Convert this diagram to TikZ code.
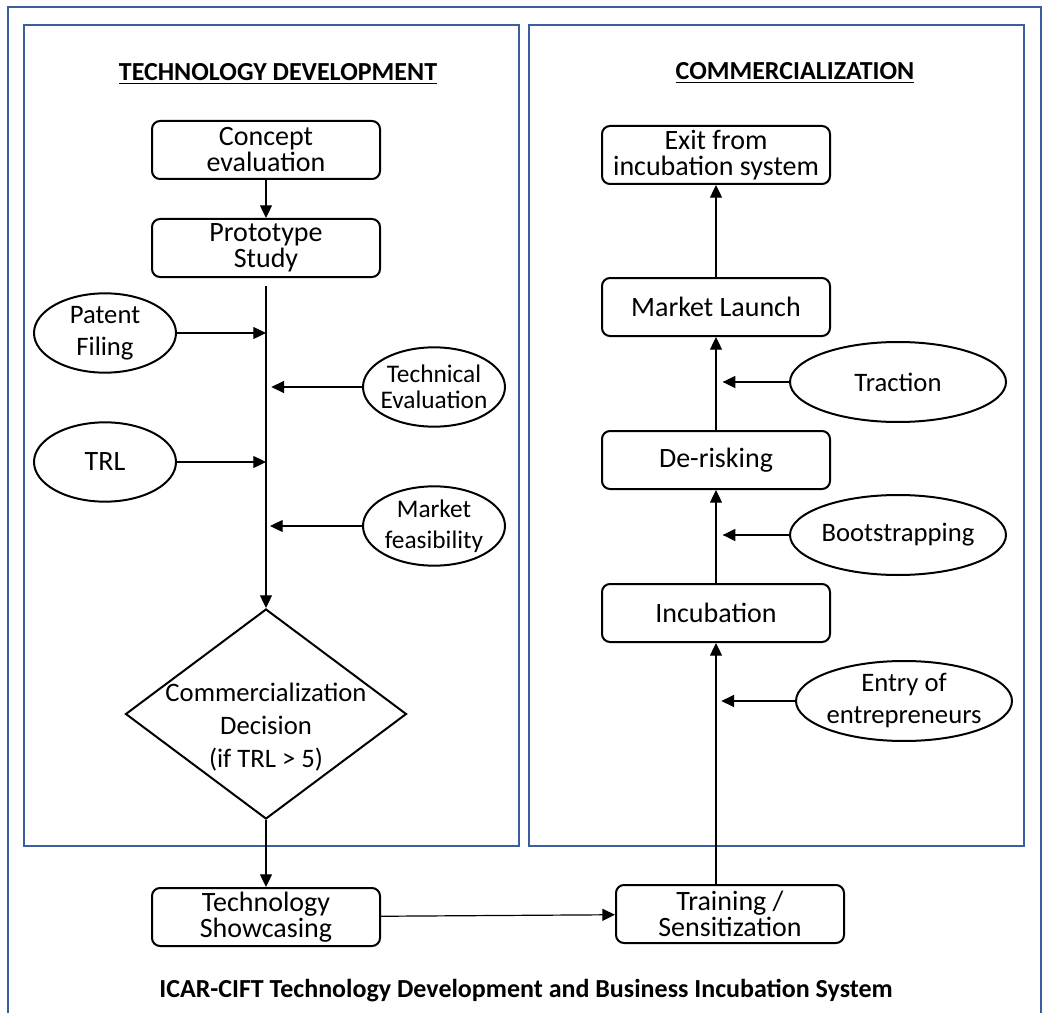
\documentclass[tikz,border=0pt]{standalone}
\usepackage{fontspec}
\setmainfont{Carlito}
\usetikzlibrary{shapes.geometric,arrows.meta}

\definecolor{panelblue}{RGB}{61,93,160}

\tikzset{
  stepbox/.style={draw, line width=1.5pt, rounded corners=6pt, minimum width=171pt, minimum height=43.5pt, inner sep=0pt, align=center, font=\fontsize{21}{19.5}\selectfont},
  inputell/.style={draw, ellipse, line width=1.5pt, inner xsep=-12pt, inner ysep=-6pt, align=center, font=\fontsize{20}{24}\selectfont},
  smallell/.style={inputell, minimum width=106.5pt, minimum height=59.5pt},
  wideell/.style={inputell, minimum width=162pt, minimum height=60pt},
  link/.style={line width=0.9pt, -{Triangle[length=9.5pt,width=9pt]}},
  panel/.style={draw=panelblue, line width=1.5pt},
}

\begin{document}
\begin{tikzpicture}[x=0.75pt,y=0.75pt,yscale=-1,xscale=1]
    \useasboundingbox (0,0) rectangle (1043,1013);

    %Shape: Rectangle [outer frame]
    \draw[panel] (8,7) -- (1041,7) -- (1041,1030) -- (8,1030) -- cycle ;
    %Shape: Rectangle [left panel]
    \draw[panel] (24,25) -- (519,25) -- (519,846) -- (24,846) -- cycle ;
    %Shape: Rectangle [right panel]
    \draw[panel] (529,25) -- (1024,25) -- (1024,846) -- (529,846) -- cycle ;

    % Text Node
    \node[anchor=base, inner sep=0pt, font=\fontsize{19.5}{22}\selectfont\bfseries] (techtitle) at (278,81) {\underline{TECHNOLOGY DEVELOPMENT}};
    % Text Node
    \node[anchor=base, inner sep=0pt, font=\fontsize{19.5}{22}\selectfont\bfseries] (comtitle) at (795,80) {\underline{COMMERCIALIZATION}};

    %Technology development column
    \node[stepbox] (concept) at (266,150) {Concept\\evaluation};
    \node[stepbox] (proto) at (266,248) {Prototype\\Study};
    \node[smallell] (patent) at (105,333) {Patent\\Filing};
    \node[smallell, font=\fontsize{19}{19.5}\selectfont] (techeval) at (434,387) {Technical\\Evaluation};
    \node[smallell, font=\fontsize{21}{24}\selectfont] (trl) at (105,462) {TRL};
    \node[smallell, font=\fontsize{19}{23}\selectfont] (market) at (434,526) {Market\\feasibility};
    %Shape: Diamond
    \node[draw, diamond, line width=1.5pt, minimum width=210.75pt, minimum height=157.5pt, inner sep=0pt] (decision) at (266,714) {};
    \node[align=center, inner sep=0pt, font=\fontsize{20}{24.75}\selectfont] (dectext) at (266,727) {Commercialization\\Decision\\(if TRL > 5)};
    \node[stepbox] (showcase) at (266,917) {Technology\\Showcasing};

    %Commercialization column
    \node[stepbox] (training) at (730,914) {Training /\\Sensitization};
    \node[stepbox] (incub) at (716,613) {Incubation};
    \node[wideell] (entry) at (904,701) {Entry of\\entrepreneurs};
    \node[stepbox] (derisk) at (716,460) {De-risking};
    \node[wideell] (boot) at (898,535) {Bootstrapping};
    \node[stepbox] (launch) at (716,307) {Market Launch};
    \node[wideell] (traction) at (898,382) {Traction};
    \node[stepbox] (exitbox) at (716,155) {Exit from\\incubation system};

    %Straight Lines
    \draw[link] (concept) -- (proto) ;
    \draw[link, shorten <=6pt] (proto) -- (decision) ;
    \draw[link] (patent.east) -- (patent.east -| decision.north) ;
    \draw[link] (trl.east) -- (trl.east -| decision.north) ;
    \draw[link, shorten >=4pt] (techeval.west) -- (techeval.west -| decision.north) ;
    \draw[link, shorten >=3pt] (market.west) -- (market.west -| decision.north) ;
    \draw[link] (decision) -- (showcase) ;
    \draw[link] (showcase) -- (training) ;
    \draw[link] (training.north -| incub.south) -- (incub.south) ;
    \draw[link, shorten >=4pt] (entry.west) -- (entry.west -| incub.south) ;
    \draw[link] (incub) -- (derisk) ;
    \draw[link, shorten >=5pt] (boot.west) -- (boot.west -| derisk.south) ;
    \draw[link] (derisk) -- (launch) ;
    \draw[link, shorten >=5pt] (traction.west) -- (traction.west -| launch.south) ;
    \draw[link] (launch) -- (exitbox) ;

    % Text Node
    \node[anchor=base, inner sep=0pt, font=\fontsize{19.5}{22}\selectfont\bfseries] (caption) at (526,997) {ICAR-CIFT Technology Development and Business Incubation System};

\end{tikzpicture}
\end{document}
